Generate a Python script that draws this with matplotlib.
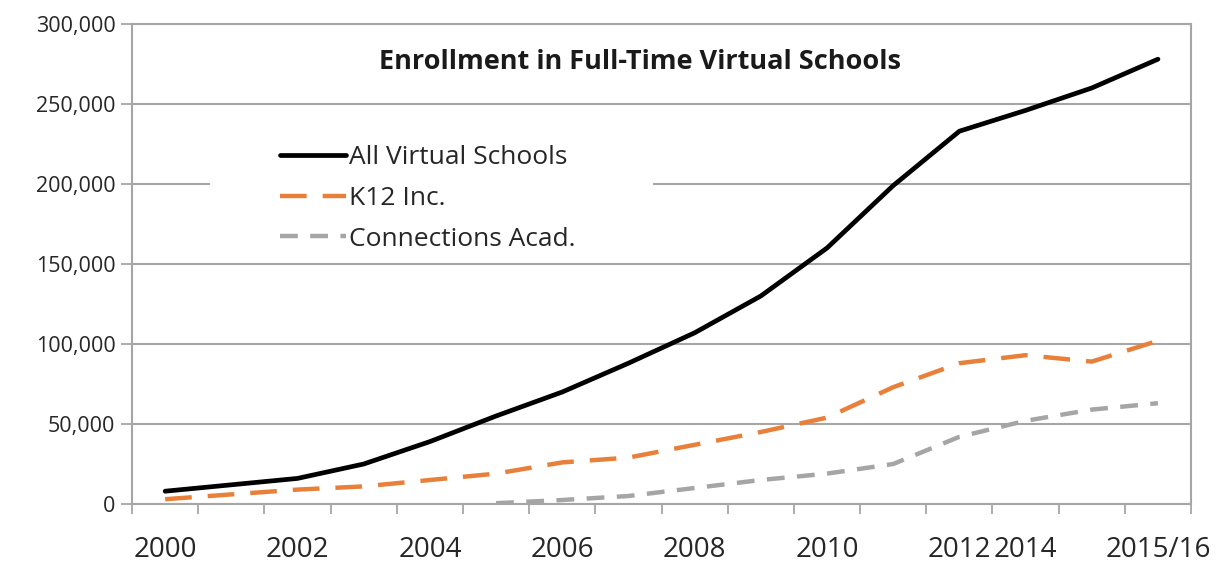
import numpy as np
import matplotlib
matplotlib.use("Agg")
import matplotlib.pyplot as plt
from matplotlib.patches import Rectangle
from matplotlib.ticker import FuncFormatter, FixedLocator

# ---- data ----
tick_labels = ['2000', '', '2002', '', '2004', '', '2006', '', '2008', '',
               '2010', '', '2012', '2014', '', '2015/16']
all_virtual = [8000, 12000, 16000, 25000, 39000, 55000, 70000, 88000, 107000,
               130000, 160000, 199000, 233000, 246000, 260000, 278000]
k12_inc = [3000, 6000, 9000, 11000, 15000, 19000, 26000, 29000, 37000,
           45000, 54000, 73000, 88000, 93000, 89000, 102000]
connections = [np.nan, np.nan, np.nan, np.nan, np.nan, 500, 2500, 5000, 10000,
               15000, 19000, 25000, 42000, 52000, 59000, 63000]
series_names = ['All Virtual Schools', 'K12 Inc.', 'Connections Acad.']
title = 'Enrollment in Full-Time Virtual Schools'

plt.rcParams['font.family'] = ['Open Sans', 'DejaVu Sans']

fig = plt.figure(figsize=(12.26, 5.67), dpi=100)
ax = fig.add_axes([0.1077, 0.1111, 0.8638, 0.8466])

x = np.arange(len(tick_labels))
grid_c = '#A6A6A6'
txt_c = '#262626'

ax.plot(x, all_virtual, color='black', lw=3.4, solid_capstyle='round',
        solid_joinstyle='round', label=series_names[0], zorder=4)
ax.plot(x, k12_inc, color='#E8803A', lw=3.2, dashes=(6, 3.6),
        label=series_names[1], zorder=3)
ax.plot(x, connections, color='#A5A5A5', lw=3.2, dashes=(4, 2.8),
        label=series_names[2], zorder=3)

ax.set_xlim(-0.5, len(tick_labels) - 0.5)
ax.set_ylim(0, 300000)
ax.set_yticks(np.arange(0, 300001, 50000))
ax.yaxis.set_major_formatter(FuncFormatter(lambda v, p: f'{int(v):,}'))
ax.grid(axis='y', color=grid_c, lw=1.5)
ax.set_axisbelow(True)

ax.set_xticks(x)
ax.set_xticklabels(tick_labels)
ax.xaxis.set_minor_locator(FixedLocator(np.arange(-0.5, len(tick_labels), 1.0)))
ax.tick_params(axis='x', which='major', length=0, pad=23, labelsize=20,
               labelcolor=txt_c)
ax.tick_params(axis='x', which='minor', length=7, width=1.3, color=grid_c,
               direction='out')
ax.tick_params(axis='y', length=8, width=1.3, color=grid_c, labelsize=15.5,
               labelcolor=txt_c, pad=4)

for s in ax.spines.values():
    s.set_color(grid_c)
    s.set_linewidth(1.5)

# white background behind the legend (interrupts gridline)
ax.add_patch(Rectangle((0.074, 0.53), 0.418, 0.25, transform=ax.transAxes,
                       facecolor='white', edgecolor='none', zorder=1))

ax.text(0.48, 0.92, title, transform=ax.transAxes, ha='center', va='center',
        fontsize=19.5, fontweight='bold', color='#1a1a1a')

leg = ax.legend(loc='upper left', bbox_to_anchor=(0.1398, 0.748),
                frameon=False, fontsize=19, handlelength=2.5,
                handletextpad=0.12, labelspacing=0.6, borderaxespad=0,
                borderpad=0)
for t in leg.get_texts():
    t.set_color(txt_c)

fig.savefig('out.png', dpi=100)
